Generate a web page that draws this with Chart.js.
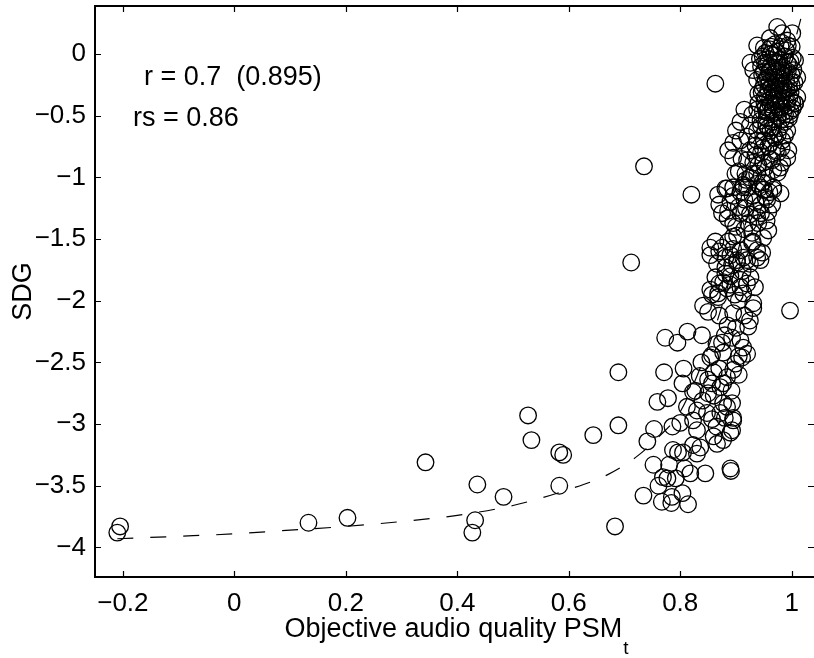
<!DOCTYPE html>
<html>
<head>
<meta charset="utf-8">
<script src="https://cdn.jsdelivr.net/npm/chart.js@4.4.0/dist/chart.umd.min.js"></script>
<style>
html, body { margin: 0; padding: 0; background: #fff; overflow: hidden; }
</style>
</head>
<body>
<canvas id="my-chart" width="814" height="658"></canvas>
<script>
// objective quality (PSM_t) vs subjective difference grade
const psmValues = [
    -0.21, -0.205, 0.133, 0.203, 0.343, 0.427, 0.432, 0.436, 0.483, 0.527, 0.533, 0.583, 0.590, 0.583,
    0.644, 0.689, 0.683, 0.689, 0.712, 0.735, 0.820, 0.863, 0.997,
    // lower band
    0.771, 0.759, 0.778, 0.753, 0.741, 0.786, 0.806, 0.804, 0.838, 0.827, 0.850, 0.877, 0.752, 0.769,
    0.777, 0.761, 0.734, 0.767, 0.784, 0.785, 0.804, 0.814, 0.818, 0.845, 0.890, 0.891, 0.787, 0.796,
    0.805, 0.830, 0.823, 0.836, 0.866, 0.877, 0.893, 0.895, 0.877, 0.884, 0.893, 0.857, 0.848, 0.823,
    0.830, 0.830, 0.890, 0.895, 0.884, 0.895, 0.899, 0.911, 0.920, 0.857, 0.877, 0.823, 0.857, 0.872,
    0.860, 0.835, 0.812, 0.840, 0.800, 0.780, 0.792, 0.808, 0.865, 0.872, 0.905, 0.892, 0.860,
    // -1.6 .. -2.4
    0.773, 0.795, 0.813, 0.839, 0.854, 0.875, 0.893, 0.908, 0.922, 0.913, 0.841, 0.850, 0.857, 0.868,
    0.877, 0.890, 0.908, 0.920, 0.934, 0.931, 0.925, 0.866, 0.863, 0.881, 0.881, 0.902, 0.913, 0.925,
    0.938, 0.947, 0.854, 0.895, 0.905, 0.915, 0.885, 0.870, 0.898,
    0.854, 0.863, 0.875, 0.886, 0.895, 0.908, 0.929, 0.938, 0.944, 0.920, 0.902, 0.881, 0.893, 0.908,
    0.926, 0.884, 0.868, 0.854, 0.913, 0.931,
    // -1.05 .. -1.5
    0.868, 0.881, 0.895, 0.913, 0.938, 0.967, 0.956, 0.958, 0.938, 0.908, 0.886, 0.875, 0.895, 0.922,
    0.940, 0.958, 0.949, 0.929, 0.902, 0.938, 0.870, 0.890, 0.915, 0.930, 0.950, 0.965, 0.945, 0.900,
    0.918,
    // -0.4 .. -1.15
    0.908, 0.895, 0.886, 0.895, 0.908, 0.920, 0.938, 0.944, 0.929, 0.988, 0.997, 1.006, 0.992, 0.983,
    0.994, 0.983, 0.967, 0.949, 0.913, 0.884, 0.931, 0.917, 0.899, 0.938, 0.952, 0.967, 0.992, 0.979,
    0.949, 0.931, 0.920, 0.908, 0.967, 0.980, 0.944, 0.953, 0.958, 0.945, 0.925, 0.910, 0.960, 0.975,
    0.970, 0.955, 0.975, 0.925, 0.940, 0.925, 0.955, 0.900, 0.915,
    // top cluster
    0.974, 1.001, 0.938, 0.926, 0.931, 0.938, 0.940, 0.940, 0.938, 1.006, 1.010, 1.010, 1.006, 0.961,
    0.992, 0.983,
    0.950, 0.960, 0.970, 0.980, 0.990, 1.000, 0.948, 0.958, 0.968, 0.978, 0.988, 0.998,
    0.945, 0.955, 0.965, 0.975, 0.985, 0.995, 1.003, 0.947, 0.957, 0.967, 0.977, 0.987, 0.997,
    0.950, 0.960, 0.970, 0.980, 0.990, 1.000, 0.946, 0.956, 0.966, 0.976, 0.986, 0.996,
    0.951, 0.961, 0.971, 0.981, 0.991, 1.001, 0.948, 0.958, 0.968, 0.978, 0.988, 0.998,
    0.955, 0.965, 0.982, 0.962, 0.972, 0.983, 0.953, 0.993, 0.962, 0.975, 0.950,
    // dense core
    0.953, 0.963, 0.973, 0.983, 0.993, 0.943, 0.952, 0.962, 0.972, 0.982, 0.992, 1.002,
    0.950, 0.960, 0.970, 0.980, 0.990, 1.000, 0.953, 0.963, 0.973, 0.985, 0.995, 1.005,
    0.948, 0.958, 0.968, 0.978, 0.988, 0.998, 0.952, 0.962, 0.972, 0.982, 0.992, 1.002,
    0.955, 0.965, 0.975, 0.985, 0.995, 0.945, 0.958, 0.968, 0.978, 0.988,
    0.935, 0.948, 0.962, 0.972, 0.982, 0.920, 0.935, 0.952, 0.965, 0.975,
    0.905, 0.918, 0.938, 0.948, 0.960, 0.895, 0.905, 0.925, 0.945, 0.935, 0.955,
    0.885, 0.915, 0.930, 0.895, 0.890, 0.870, 0.912, 0.890, 0.870, 0.900, 0.880, 0.865, 0.905, 0.870,
    0.850, 0.880, 0.860
];
const sdgValues = [
    -3.88, -3.83, -3.80, -3.76, -3.31, -3.88, -3.78, -3.49, -3.59, -2.93, -3.13, -3.23, -3.25, -3.50,
    -3.09, -3.01, -3.83, -2.58, -1.69, -0.91, -1.14, -0.24, -2.08,
    -2.58, -2.82, -2.79, -3.04, -3.14, -3.02, -2.55, -2.67, -2.50, -2.73, -2.64, -2.67, -3.33, -3.43,
    -3.44, -3.50, -3.58, -3.63, -3.64, -3.59, -3.56, -3.65, -3.40, -3.40, -3.36, -3.38, -3.21, -3.23,
    -3.23, -3.24, -3.17, -3.19, -3.16, -3.13, -3.05, -2.97, -2.83, -2.86, -2.83, -2.96, -2.91, -2.97,
    -2.89, -3.05, -3.07, -2.95, -2.62, -2.56, -2.51, -2.46, -2.43, -2.44, -2.42, -2.74, -2.67, -2.70,
    -2.58, -2.61, -2.86, -2.81, -2.99, -3.33, -3.44, -3.36, -3.02, -2.91, -2.60, -2.73, -2.77,
    -2.30, -2.34, -2.25, -2.28, -2.46, -2.34, -2.30, -2.32, -2.21, -2.38, -2.04, -2.09, -1.95, -1.97,
    -1.85, -1.87, -1.89, -1.86, -1.89, -2.06, -2.16, -1.70, -1.81, -1.78, -1.65, -1.67, -1.65, -1.70,
    -1.65, -1.61, -1.63, -2.10, -2.00, -2.12, -2.20, -2.12, -1.95,
    -1.57, -1.52, -1.57, -1.52, -1.48, -1.59, -1.53, -1.59, -1.67, -1.67, -1.69, -1.73, -1.71, -1.83,
    -1.81, -1.90, -1.94, -1.91, -1.94, -2.02,
    -1.14, -1.09, -1.08, -1.06, -1.05, -1.10, -1.18, -1.28, -1.32, -1.29, -1.27, -1.29, -1.37, -1.37,
    -1.37, -1.43, -1.49, -1.45, -1.47, -1.27, -1.22, -1.20, -1.18, -1.15, -1.10, -1.22, -1.22, -1.40,
    -1.25,
    -0.55, -0.72, -0.78, -0.84, -0.70, -0.67, -0.62, -0.54, -0.49, -0.55, -0.49, -0.40, -0.62, -0.70,
    -0.78, -0.88, -0.94, -1.10, -1.08, -1.09, -0.88, -0.97, -0.97, -0.70, -0.64, -0.59, -0.84, -0.92,
    -0.88, -0.97, -1.08, -1.12, -1.08, -1.13, -1.08, -1.16, -0.75, -0.80, -0.78, -0.85, -0.85, -0.80,
    -0.68, -0.58, -0.50, -0.58, -0.90, -1.00, -1.00, -0.62, -0.45,
    0.22, 0.17, 0.07, -0.07, -0.13, -0.21, -0.32, -0.40, -0.45, -0.05, -0.19, -0.35, -0.40, 0.13,
    0.11, 0.17,
    0.05, 0.04, 0.08, 0.06, 0.03, 0.06, -0.02, -0.04, -0.01, -0.05, -0.02, -0.06,
    -0.10, -0.09, -0.12, -0.08, -0.11, -0.09, -0.13, -0.17, -0.19, -0.16, -0.20, -0.17, -0.21,
    -0.25, -0.23, -0.27, -0.24, -0.28, -0.25, -0.31, -0.33, -0.30, -0.34, -0.31, -0.35,
    -0.39, -0.37, -0.41, -0.38, -0.42, -0.39, -0.46, -0.44, -0.48, -0.45, -0.49, -0.46,
    -0.52, -0.55, -0.53, 0.00, -0.14, -0.29, -0.43, -0.14, -0.62, -0.65, -0.70,
    0.01, 0.06, 0.02, 0.09, 0.07, -0.04, -0.07, -0.10, -0.06, -0.13, -0.07, -0.03,
    -0.14, -0.15, -0.19, -0.15, -0.22, -0.17, -0.21, -0.27, -0.23, -0.25, -0.27, -0.23,
    -0.28, -0.29, -0.34, -0.29, -0.36, -0.31, -0.35, -0.41, -0.37, -0.43, -0.38, -0.44,
    -0.47, -0.45, -0.51, -0.47, -0.52, -0.58, -0.60, -0.66, -0.60, -0.66,
    -0.74, -0.76, -0.72, -0.78, -0.76, -0.86, -0.82, -0.92, -0.86, -0.96,
    -0.95, -1.02, -0.97, -1.04, -1.12, -1.15, -1.24, -1.30, -1.29, -1.20, -1.35,
    -1.33, -1.42, -1.52, -1.58, -1.63, -1.60, -1.76, -1.80, -1.86, -2.22, -2.28, -2.35, -2.45, -2.55,
    -2.75, -2.95, -3.10
];

// dashed fitted curve
const fitX = [-0.21, -0.1, 0, 0.1, 0.2, 0.3, 0.4, 0.5, 0.6, 0.67, 0.72, 0.76, 0.8, 0.845, 0.866, 0.9, 0.94, 0.98, 1.02, 1.04];
const fitY = [-3.93, -3.91, -3.89, -3.86, -3.83, -3.79, -3.74, -3.66, -3.53, -3.41, -3.27, -3.11, -2.90, -2.44, -2.17, -1.65, -1.00, -0.33, 0.35, 0.70];

const xTicks = [-0.2, 0, 0.2, 0.4, 0.6, 0.8, 1];
const yTicks = [0, -0.5, -1, -1.5, -2, -2.5, -3, -3.5, -4];

const FONT = 'Liberation Sans, Arial, Helvetica, sans-serif';
const fmt = v => String(v).replace('-', '\u2212');

const points = psmValues.map((x, i) => ({ x: x, y: sdgValues[i] }));
const fitLine = fitX.map((x, i) => ({ x: x, y: fitY[i] }));

// matlab style box, inward ticks, text annotations and axis titles
const matlabAxes = {
    id: 'matlabAxes',
    afterDraw(chart) {
        const ctx = chart.ctx;
        const a = chart.chartArea;
        const xs = chart.scales.x;
        const ys = chart.scales.y;
        ctx.save();
        ctx.strokeStyle = '#000';
        ctx.lineWidth = 1.2;
        ctx.beginPath();
        xTicks.forEach(v => {
            const px = Math.round(xs.getPixelForValue(v)) + 0.5;
            ctx.moveTo(px, a.bottom); ctx.lineTo(px, a.bottom - 6);
            ctx.moveTo(px, a.top); ctx.lineTo(px, a.top + 6);
        });
        yTicks.forEach(v => {
            const py = Math.round(ys.getPixelForValue(v)) + 0.5;
            ctx.moveTo(a.left, py); ctx.lineTo(a.left + 6, py);
            ctx.moveTo(a.right, py); ctx.lineTo(a.right - 6, py);
        });
        ctx.stroke();
        // box: the right side falls just outside the picture
        ctx.lineWidth = 2;
        ctx.beginPath();
        ctx.moveTo(a.right + 2, a.top);
        ctx.lineTo(a.left, a.top);
        ctx.lineTo(a.left, a.bottom);
        ctx.lineTo(a.right + 2, a.bottom);
        ctx.stroke();

        ctx.fillStyle = '#000';
        ctx.textBaseline = 'alphabetic';
        ctx.textAlign = 'left';
        ctx.font = '27px ' + FONT;
        ctx.fillText('r = 0.7  (0.895)', 144, 85);
        ctx.fillText('rs = 0.86', 133, 126);

        // x title with subscript
        const main = 'Objective audio quality PSM';
        ctx.font = '27px ' + FONT;
        const wMain = ctx.measureText(main).width;
        ctx.font = '19px ' + FONT;
        const wSub = ctx.measureText('t').width;
        const x0 = 456 - (wMain + wSub) / 2;
        ctx.font = '27px ' + FONT;
        ctx.fillText(main, x0, 637);
        ctx.font = '19px ' + FONT;
        ctx.fillText('t', x0 + wMain + 1, 654);

        // y title
        ctx.font = '27px ' + FONT;
        ctx.translate(31, (a.top + a.bottom) / 2);
        ctx.rotate(-Math.PI / 2);
        ctx.textAlign = 'center';
        ctx.fillText('SDG', 0, 0);
        ctx.restore();
    }
};

const ctx = document.getElementById('my-chart').getContext('2d');

let myChart = new Chart(ctx, {
    type: 'scatter',
    data: {
        datasets: [
            {
                label: 'fit',
                data: fitLine,
                showLine: true,
                borderColor: '#000',
                borderWidth: 1.2,
                borderDash: [16, 17],
                pointRadius: 0,
                cubicInterpolationMode: 'monotone',
                fill: false,
            },
            {
                label: 'SDG',
                data: points,
                pointStyle: 'circle',
                pointRadius: 8.3,
                pointBorderWidth: 1.3,
                borderColor: '#000',
                backgroundColor: 'rgba(0,0,0,0)',
            },
        ],
    },
    options: {
        responsive: false,
        animation: false,
        devicePixelRatio: 1,
        events: [],
        layout: { autoPadding: false, padding: { top: 6, right: 0, left: 0, bottom: 0 } },
        plugins: {
            legend: { display: false },
            tooltip: { enabled: false },
        },
        scales: {
            x: {
                type: 'linear',
                min: -0.25,
                max: 1.04,
                afterBuildTicks: s => { s.ticks = xTicks.map(v => ({ value: v })); },
                afterFit: s => { s.height = 81; s.paddingLeft = 0; s.paddingRight = 0; },
                grid: { display: false, drawTicks: false },
                border: { display: false },
                ticks: {
                    color: '#000',
                    font: { family: FONT, size: 26 },
                    padding: 11,
                    maxRotation: 0,
                    callback: v => fmt(v),
                },
            },
            y: {
                type: 'linear',
                min: -4.24,
                max: 0.39,
                afterBuildTicks: s => { s.ticks = yTicks.map(v => ({ value: v })); },
                afterFit: s => { s.width = 95; s.paddingTop = 0; s.paddingBottom = 0; },
                grid: { display: false, drawTicks: false },
                border: { display: false },
                ticks: {
                    color: '#000',
                    font: { family: FONT, size: 26 },
                    padding: 9,
                    callback: v => fmt(v),
                },
            },
        },
    },
    plugins: [matlabAxes],
});
</script>
</body>
</html>
